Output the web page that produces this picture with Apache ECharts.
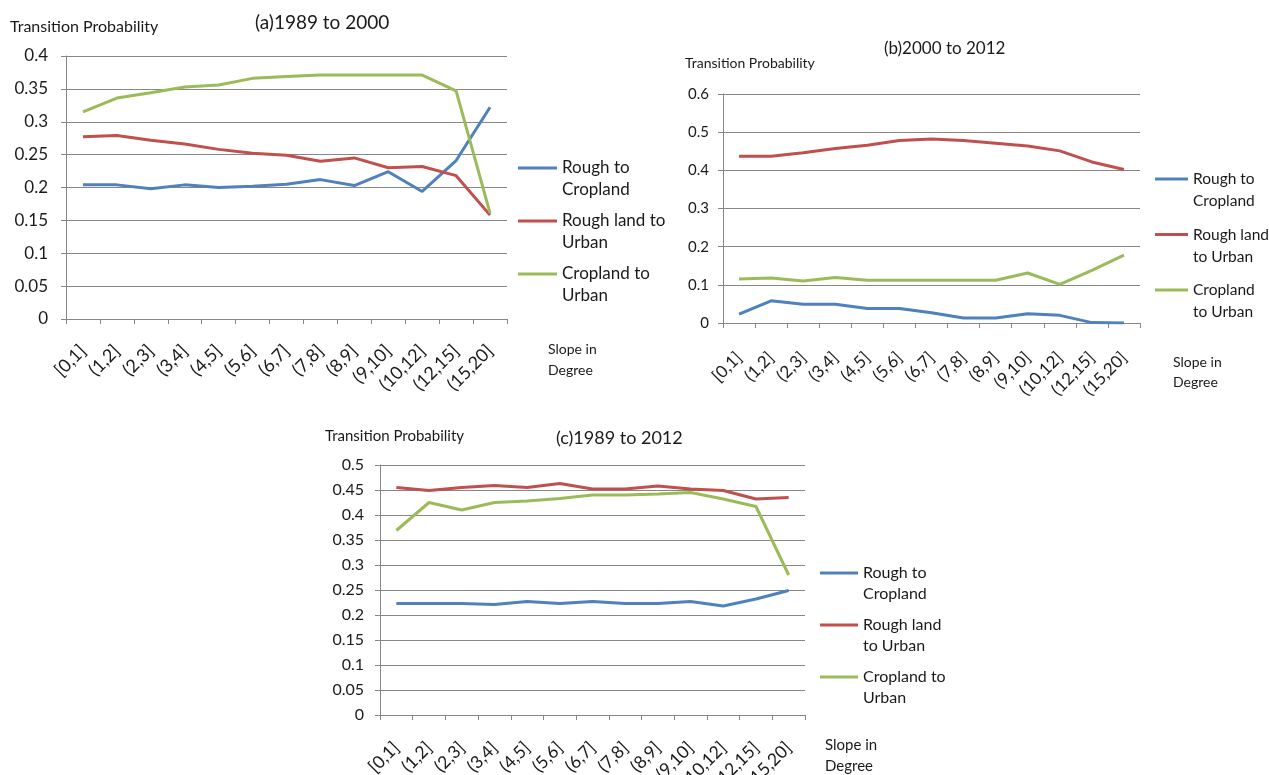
<!DOCTYPE html>
<html>
<head>
<meta charset="utf-8">
<script src="https://cdn.jsdelivr.net/npm/echarts@6/dist/echarts.min.js"></script>
<style>
html,body{margin:0;padding:0;background:#fff;}
#chart{width:1269px;height:775px;}
</style>
</head>
<body>
<div id="chart"></div>
<script>
// ---- data ----
const categories = ['[0,1]','(1,2]','(2,3]','(3,4]','(4,5]','(5,6]','(6,7]','(7,8]','(8,9]','(9,10]','(10,12]','(12,15]','(15,20]'];
const seriesNames = ['Rough to Cropland','Rough land to Urban','Cropland to Urban'];

// (a) 1989 to 2000
const roughToCropA   = [0.204,0.204,0.198,0.204,0.200,0.202,0.205,0.212,0.203,0.224,0.194,0.241,0.322];
const roughToUrbanA  = [0.277,0.279,0.272,0.266,0.258,0.252,0.249,0.240,0.245,0.230,0.232,0.218,0.158];
const cropToUrbanA   = [0.315,0.336,0.344,0.353,0.356,0.366,0.369,0.371,0.371,0.371,0.371,0.347,0.161];

// (b) 2000 to 2012
const roughToCropB   = [0.023,0.058,0.049,0.049,0.038,0.038,0.027,0.013,0.013,0.024,0.020,0.001,0.000];
const roughToUrbanB  = [0.437,0.437,0.446,0.457,0.466,0.478,0.482,0.478,0.471,0.464,0.451,0.422,0.402];
const cropToUrbanB   = [0.115,0.118,0.110,0.119,0.112,0.112,0.112,0.112,0.112,0.131,0.101,0.138,0.178];

// (c) 1989 to 2012
const roughToCropC   = [0.223,0.223,0.223,0.221,0.227,0.223,0.227,0.223,0.223,0.227,0.218,0.232,0.249];
const roughToUrbanC  = [0.455,0.449,0.455,0.459,0.455,0.463,0.452,0.452,0.458,0.452,0.449,0.432,0.435];
const cropToUrbanC   = [0.369,0.425,0.410,0.425,0.428,0.433,0.440,0.440,0.442,0.445,0.432,0.417,0.280];

const yTicksA = {min:0, max:0.4, interval:0.05};
const yTicksB = {min:0, max:0.6, interval:0.1};
const yTicksC = {min:0, max:0.5, interval:0.05};

const titlesText = ['(a)1989 to 2000','(b)2000 to 2012','(c)1989 to 2012'];
const yAxisTitle = 'Transition Probability';
const xAxisTitle = 'Slope in\nDegree';
const legendA = ['Rough to\nCropland','Rough land to\nUrban','Cropland to\nUrban'];
const legendB = ['Rough to\nCropland','Rough land\nto Urban','Cropland\nto Urban'];
const legendC = ['Rough to\nCropland','Rough land\nto Urban','Cropland to\nUrban'];

// ---- styles ----
const FONT = 'Lato';
const TXT = '#1a1a1a';
const GRAY = '#878787';
const COLORS = ['#4F81BD','#C0504D','#9BBB59'];

const panels = [
  {grid:{left:66, top:56, width:441, height:263}, y:yTicksA, ySize:17, yMargin:18, xSize:18, xMargin:29,
   nameGap:41, namePad:20, nameSize:14, nameLH:21,
   legend:{left:518, top:135, lh:22, gap:-13, size:17, w:39, labels:legendA},
   data:[roughToCropA, roughToUrbanA, cropToUrbanA]},
  {grid:{left:723, top:94, width:417, height:229}, y:yTicksB, ySize:15, yMargin:14, xSize:17, xMargin:32,
   nameGap:33, namePad:29, nameSize:14, nameLH:20,
   legend:{left:1155, top:146, lh:22, gap:-10.5, size:15.5, w:33, labels:legendB},
   data:[roughToCropB, roughToUrbanB, cropToUrbanB]},
  {grid:{left:380, top:465, width:425, height:250}, y:yTicksC, ySize:16, yMargin:16, xSize:17.5, xMargin:30,
   nameGap:20, namePad:20, nameSize:15, nameLH:21,
   legend:{left:820, top:541.5, lh:21, gap:-11, size:16, w:38, labels:legendC},
   data:[roughToCropC, roughToUrbanC, cropToUrbanC]}
];

const option = {
  animation:false,
  backgroundColor:'#fff',
  textStyle:{fontFamily:FONT, color:TXT},
  title:[
    {text:yAxisTitle, left:10, top:17, padding:0, textStyle:{fontFamily:FONT, fontSize:16, fontWeight:'normal', color:TXT, lineHeight:20}},
    {text:titlesText[0], left:255, top:11, padding:0, textStyle:{fontFamily:FONT, fontSize:19, fontWeight:'normal', color:TXT, lineHeight:24}},
    {text:yAxisTitle, left:685, top:54, padding:0, textStyle:{fontFamily:FONT, fontSize:14, fontWeight:'normal', color:TXT, lineHeight:18}},
    {text:titlesText[1], left:884, top:38, padding:0, textStyle:{fontFamily:FONT, fontSize:17, fontWeight:'normal', color:TXT, lineHeight:22}},
    {text:yAxisTitle, left:325, top:426, padding:0, textStyle:{fontFamily:FONT, fontSize:15, fontWeight:'normal', color:TXT, lineHeight:20}},
    {text:titlesText[2], left:556, top:427, padding:0, textStyle:{fontFamily:FONT, fontSize:18, fontWeight:'normal', color:TXT, lineHeight:22}}
  ],
  grid: panels.map(p => Object.assign({containLabel:false, outerBoundsMode:'none'}, p.grid)),
  legend: panels.map((p, i) => ({
    orient:'vertical',
    left:p.legend.left, top:p.legend.top,
    padding:0,
    itemGap:p.legend.gap,
    itemWidth:p.legend.w, itemHeight:3,
    icon:'rect',
    data:seriesNames,
    // leading blank line puts the first text line level with the legend line
    formatter: name => '\n' + p.legend.labels[seriesNames.indexOf(name)],
    textStyle:{fontFamily:FONT, fontSize:p.legend.size, color:TXT, lineHeight:p.legend.lh}
  })),
  xAxis: panels.map((p, i) => ({
    type:'category', gridIndex:i, data:categories, boundaryGap:true,
    name:xAxisTitle, nameLocation:'end', nameGap:p.nameGap,
    nameTextStyle:{fontFamily:FONT, fontSize:p.nameSize, color:TXT, align:'left', verticalAlign:'top', lineHeight:p.nameLH, padding:[p.namePad,0,0,0]},
    axisLine:{show:true, lineStyle:{color:GRAY, width:1}},
    axisTick:{show:true, length:5, alignWithLabel:false, interval:0, lineStyle:{color:GRAY}},
    axisLabel:{interval:0, rotate:45, margin:p.xMargin, fontFamily:FONT, fontSize:p.xSize, color:TXT, hideOverlap:false},
    splitLine:{show:false}
  })),
  yAxis: panels.map((p, i) => ({
    type:'value', gridIndex:i, min:p.y.min, max:p.y.max, interval:p.y.interval,
    axisLine:{show:true, lineStyle:{color:GRAY, width:1}},
    axisTick:{show:true, length:5, lineStyle:{color:GRAY}},
    axisLabel:{margin:p.yMargin, fontFamily:FONT, fontSize:p.ySize, color:TXT},
    splitLine:{show:true, lineStyle:{color:GRAY, width:1}}
  })),
  series: []
};

panels.forEach((p, i) => {
  p.data.forEach((arr, k) => {
    option.series.push({
      type:'line', name:seriesNames[k], xAxisIndex:i, yAxisIndex:i,
      data:arr, showSymbol:false, symbol:'none',
      lineStyle:{color:COLORS[k], width:3},
      itemStyle:{color:COLORS[k]},
      z:2+k
    });
  });
});

const chart = echarts.init(document.getElementById('chart'), null, {renderer:'canvas'});
chart.setOption(option);
</script>
</body>
</html>
